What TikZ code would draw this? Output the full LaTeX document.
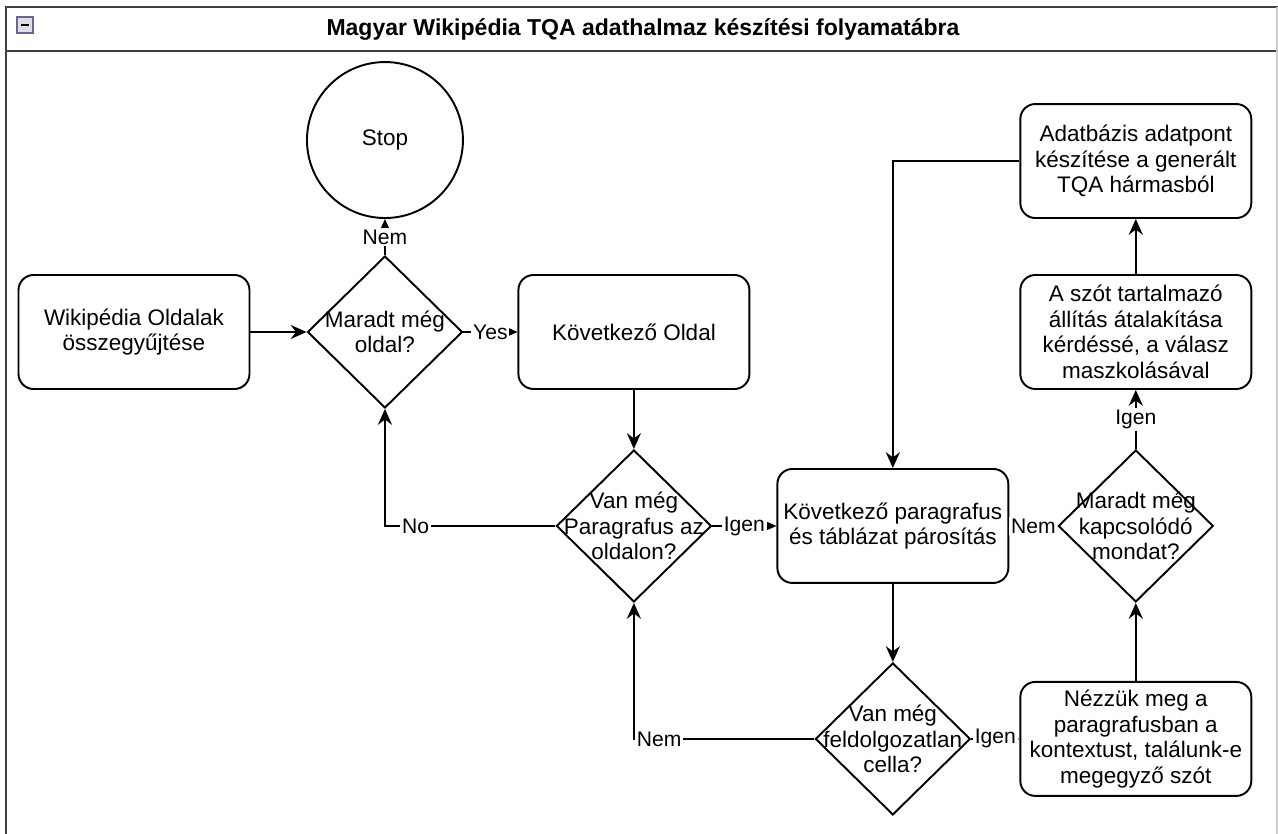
\documentclass[tikz,border=0pt]{standalone}
\usepackage{fontspec}
\setmainfont{Liberation Sans}
\usepackage{tikz}
\usetikzlibrary{shapes.geometric,positioning,arrows.meta}

\begin{document}
\begin{tikzpicture}
		[x=0.02cm,y=-0.02cm,on grid,line width=1.1pt,
		>={Stealth[length=9pt,width=8pt,inset=3pt]},
		font=\fontsize{12.8}{14.6}\selectfont,
		process/.style={draw,rounded corners=0.3cm,minimum width=4.62cm,minimum height=2.28cm,align=center},
		decision/.style={draw,diamond,inner sep=0pt,minimum width=3.1cm,minimum height=3.04cm},
		lbl/.style={fill=white,inner sep=1pt,font=\fontsize{12}{14}\selectfont}]
		\useasboundingbox (0,0) rectangle (1278,834);
		% keret
		\draw[black!75,line width=1.5pt] (6,834) -- (6,7) -- (1278,7);
		\draw[black!75,line width=1.5pt] (6,51) -- (1278,51);
		\draw[black!20] (1277,7) -- (1277,834);
		\draw[gray!80!blue,fill=gray!25] (17,17) rectangle (33,33);
		\draw[line width=1.5pt] (21,25) -- (29,25);
		\node[font=\bfseries\fontsize{13.1}{15}\selectfont] (title) at (643,30) {Magyar Wikipédia TQA adathalmaz készítési folyamatábra};
		% csomopontok
		\node[process] (wiki) at (134,332) {Wikipédia Oldalak\\összegyűjtése};
		\node[decision,label={[align=center]center:Maradt még\\oldal?}] (d_oldal) [right=5.02cm of wiki] {};
		\node[draw,circle,minimum size=3.12cm] (stop) [above=3.84cm of d_oldal] {Stop};
		\node[process] (kov_oldal) [right=4.98cm of d_oldal] {Következő Oldal};
		\node[decision,label={[align=center]center:Van még\\Paragrafus az\\oldalon?}] (d_par) [below=3.88cm of kov_oldal] {};
		\node[process] (kov_par) [right=5.18cm of d_par] {Következő paragrafus\\és táblázat párosítás};
		\node[decision,label={[align=center]center:Van még\\feldolgozatlan\\cella?}] (d_cella) [below=4.26cm of kov_par] {};
		\node[process] (kontextus) [right=4.86cm of d_cella] {Nézzük meg a\\paragrafusban a\\kontextust, találunk-e\\megegyző szót};
		\node[decision,label={[align=center]center:Maradt még\\kapcsolódó\\mondat?}] (d_mondat) [above=4.26cm of kontextus] {};
		\node[process] (maszk) [above=3.88cm of d_mondat] {A szót tartalmazó\\állítás átalakítása\\kérdéssé, a válasz\\maszkolásával};
		\node[process] (adatpont) [above=3.42cm of maszk] {Adatbázis adatpont\\készítése a generált\\TQA hármasból};
		% elek
		\path[->]
		(wiki)		edge (d_oldal)
		(d_oldal)	edge node[lbl] {Nem} (stop)
					edge node[lbl] {Yes} (kov_oldal)
		(kov_oldal)	edge (d_par)
		(d_par)		edge node[lbl] {Igen} (kov_par)
		(kov_par)	edge (d_cella)
		(d_cella)	edge node[lbl] {Igen} (kontextus)
		(kontextus)	edge (d_mondat)
		(d_mondat)	edge node[lbl] {Nem} (kov_par)
					edge node[lbl] {Igen} (maszk)
		(maszk)		edge (adatpont)
		;
		\draw[->] (d_par.west) -| node[lbl,pos=0.41] {No} (d_oldal.south);
		\draw[->] (d_cella.west) -| node[lbl,pos=0.43] {Nem} (d_par.south);
		\draw[->] (adatpont.west) -| (kov_par.north);
		\end{tikzpicture}
\end{document}
